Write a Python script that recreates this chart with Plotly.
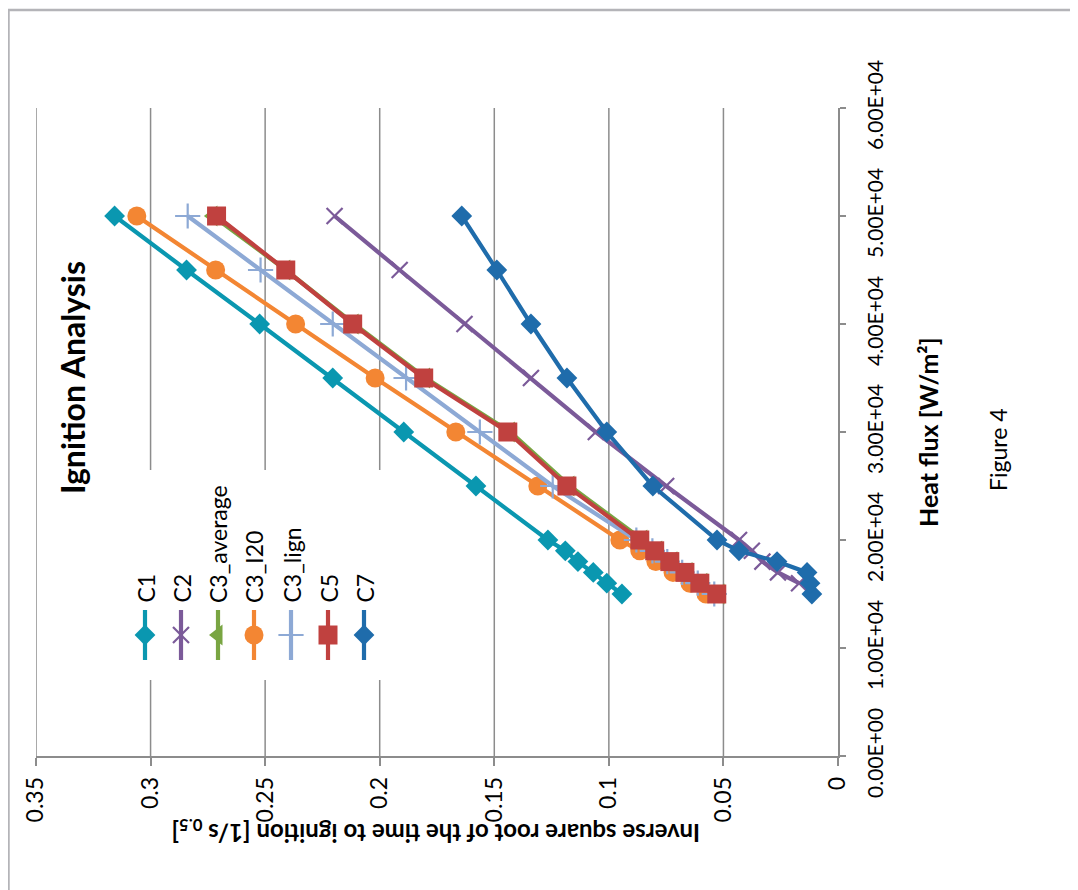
import plotly.graph_objects as go

# ---------------- data ----------------
heat_flux = [15000, 16000, 17000, 18000, 19000, 20000, 25000, 30000, 35000, 40000, 45000, 50000]
heat_flux_c2 = [16000, 17000, 18000, 19000, 20000, 25000, 30000, 35000, 40000, 45000, 50000]

c1 = [0.0943, 0.1009, 0.1068, 0.1135, 0.1190, 0.1266, 0.1580, 0.1895, 0.2205, 0.2524, 0.2843, 0.3157]
c2 = [0.0170, 0.0262, 0.0330, 0.0376, 0.0432, 0.0750, 0.1057, 0.1340, 0.1630, 0.1913, 0.2197]
c3_average = [0.0515, 0.0590, 0.0655, 0.0721, 0.0787, 0.0852, 0.1170, 0.1430, 0.1800, 0.2112, 0.2410, 0.2728]
c3_i20 = [0.0576, 0.0646, 0.0720, 0.0795, 0.0865, 0.0952, 0.1310, 0.1668, 0.2020, 0.2367, 0.2716, 0.3060]
c3_lign = [0.0540, 0.0612, 0.0680, 0.0745, 0.0810, 0.0880, 0.1245, 0.1563, 0.1885, 0.2205, 0.2520, 0.2838]
c5 = [0.0529, 0.0603, 0.0668, 0.0734, 0.0800, 0.0865, 0.1183, 0.1441, 0.1808, 0.2118, 0.2410, 0.2712]
c7 = [0.0114, 0.0122, 0.0135, 0.0266, 0.0432, 0.0528, 0.0808, 0.1009, 0.1183, 0.1340, 0.1489, 0.1642]

series_names = ["C1", "C2", "C3_average", "C3_I20", "C3_lign", "C5", "C7"]
series_x = [c1, c2, c3_average, c3_i20, c3_lign, c5, c7]
series_y = [heat_flux, heat_flux_c2, heat_flux, heat_flux, heat_flux, heat_flux, heat_flux]

value_ticks = [0.0, 0.05, 0.1, 0.15, 0.2, 0.25, 0.3, 0.35]
flux_ticks = [0, 10000, 20000, 30000, 40000, 50000, 60000]
flux_ticktext = ["0.00E+00", "1.00E+04", "2.00E+04", "3.00E+04", "4.00E+04", "5.00E+04", "6.00E+04"]

# ---------------- styles ----------------
colors = ["#0A97B0", "#7B5A99", "#79A542", "#F38633", "#8DA9D5", "#C0413F", "#1F6CAB"]
symbols = ["diamond", "x-thin", "triangle-left", "circle", "cross-thin", "square", "diamond"]
sizes = [16, 16, 18, 19, 18, 19, 16]
LW = 4.2

FONT = "Lato"
GRID = "#8C8C8C"
W, H = 1078, 890
OFF = 8  # page body margin: screen px = figure px + OFF


def s(v):
    """screen pixel -> figure pixel"""
    return v - OFF


L, R, T, B = s(36), s(838), s(108), s(756)   # plot area in figure pixels


def px(xp):
    return (s(xp) - L) / (R - L)


def py(yp):
    return (B - s(yp)) / (B - T)


fig = go.Figure()

# gridlines (drawn as shapes so the legend box can hide part of them)
for v in value_ticks[1:]:
    fig.add_shape(type="line", xref="x", yref="y domain", x0=v, x1=v, y0=0, y1=1,
                  line=dict(color=GRID, width=1.5), layer="below")
# white box behind legend
fig.add_shape(type="rect", xref="x domain", yref="y domain",
              x0=px(118), x1=px(400), y0=py(680), y1=py(470),
              fillcolor="white", line=dict(width=0), layer="below")

for name, xs, ys, col, sym, sz in zip(series_names, series_x, series_y, colors, symbols, sizes):
    thin = sym.endswith("-thin")
    fig.add_trace(go.Scatter(
        x=xs, y=ys, mode="lines+markers", name=name,
        line=dict(color=col, width=LW),
        marker=dict(symbol=sym, size=sz, color=col,
                    line=dict(color=col, width=2.2 if thin else 0)),
        showlegend=False, cliponaxis=False,
    ))

# ---------- manual (rotated) legend on an overlay pixel axis ----------
leg_x = [145, 181, 218, 254, 291, 328, 364]
for name, lx, col, sym, sz in zip(series_names, leg_x, colors, symbols, sizes):
    thin = sym.endswith("-thin")
    fig.add_trace(go.Scatter(
        x=[s(lx), s(lx)], y=[s(610), s(660)], mode="lines", xaxis="x2", yaxis="y2",
        line=dict(color=col, width=LW), showlegend=False, hoverinfo="skip"))
    fig.add_trace(go.Scatter(
        x=[s(lx)], y=[s(635)], mode="markers", xaxis="x2", yaxis="y2",
        marker=dict(symbol=sym, size=sz, color=col,
                    line=dict(color=col, width=2.2 if thin else 0)),
        showlegend=False, hoverinfo="skip"))
    fig.add_annotation(x=px(lx), y=py(605), xref="paper", yref="paper",
                       text=name, textangle=-90, showarrow=False,
                       xanchor="center", yanchor="bottom",
                       font=dict(family=FONT, size=23, color="#000000"))

# titles
fig.add_annotation(x=px(72), y=py(378), xref="paper", yref="paper",
                   text="<b>Ignition Analysis</b>", textangle=-90, showarrow=False,
                   xanchor="center", yanchor="middle",
                   font=dict(family=FONT, size=32, color="#000000"))
fig.add_annotation(x=px(436), y=py(832), xref="paper", yref="paper",
                   text="<b>Inverse square root of the time to ignition [1/s <sub>0.5</sub>]</b>",
                   textangle=180, showarrow=False, xanchor="center", yanchor="middle",
                   font=dict(family=FONT, size=24, color="#000000"))
fig.add_annotation(x=px(928), y=py(432), xref="paper", yref="paper",
                   text="<b>Heat flux [W/m²]</b>", textangle=-90, showarrow=False,
                   xanchor="center", yanchor="middle",
                   font=dict(family=FONT, size=25, color="#000000"))
fig.add_annotation(x=px(998), y=py(450), xref="paper", yref="paper",
                   text="Figure 4", textangle=-90, showarrow=False,
                   xanchor="center", yanchor="middle",
                   font=dict(family=FONT, size=23, color="#000000"))

# outer frame
fig.add_shape(type="line", xref="paper", yref="paper",
              x0=px(8), x1=px(1086), y0=py(10), y1=py(10),
              line=dict(color="#B4B4B8", width=2.5))
fig.add_shape(type="line", xref="paper", yref="paper",
              x0=px(8.5), x1=px(8.5), y0=py(10), y1=py(898),
              line=dict(color="#B4B4B8", width=2.5))

fig.update_layout(
    width=W, height=H,
    margin=dict(l=L, r=W - R, t=T, b=H - B, pad=0),
    paper_bgcolor="white", plot_bgcolor="white",
    showlegend=False,
    font=dict(family=FONT, size=22, color="#000000"),
    xaxis=dict(range=[0.35, 0], tickvals=value_ticks, automargin=False,
               showgrid=False, zeroline=False,
               showline=True, linecolor=GRID, linewidth=1.5,
               ticks="outside", ticklen=8, tickcolor=GRID, tickwidth=1.5,
               tickangle=-90, ticklabelstandoff=2,
               tickfont=dict(family=FONT, size=23, color="#000000")),
    yaxis=dict(range=[0, 60000], tickvals=flux_ticks, ticktext=flux_ticktext,
               side="right", showgrid=False, zeroline=False, automargin=False,
               showline=True, linecolor=GRID, linewidth=1.5,
               ticks="outside", ticklen=6, tickcolor=GRID, tickwidth=1.5,
               tickangle=-90, ticklabelstandoff=12,
               tickfont=dict(family=FONT, size=21, color="#000000")),
    xaxis2=dict(range=[L, R], overlaying="x", visible=False, fixedrange=True),
    yaxis2=dict(range=[B, T], overlaying="y", visible=False, fixedrange=True),
)

fig.write_html("out.html")
